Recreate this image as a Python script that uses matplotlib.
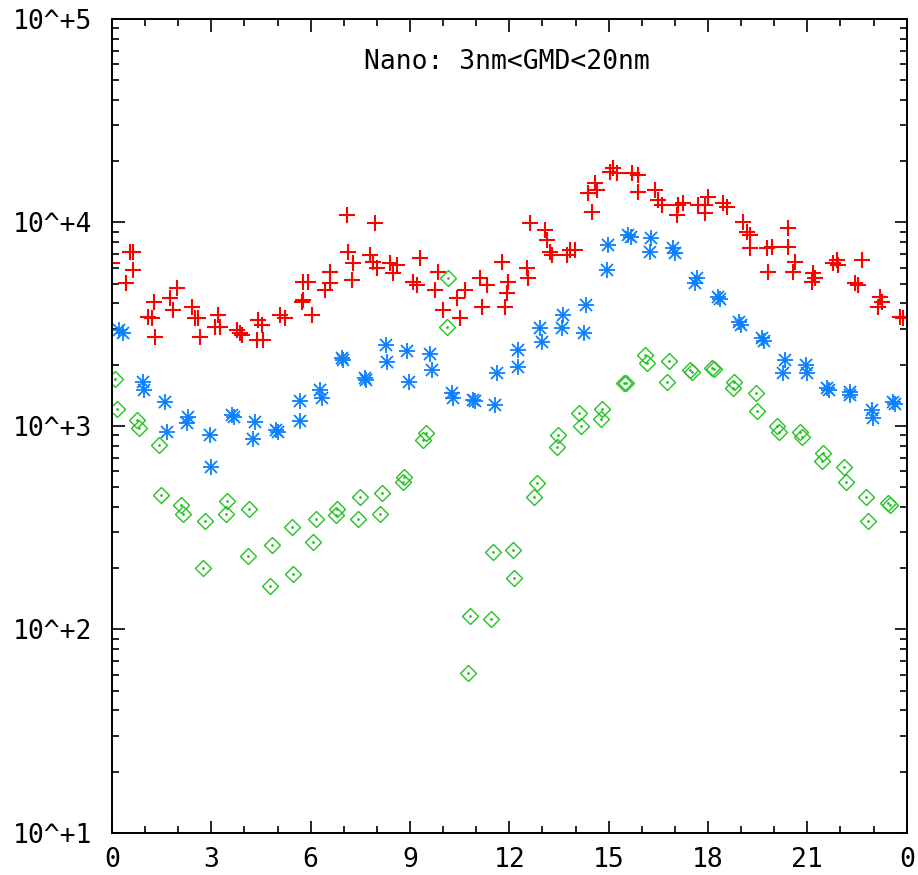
import numpy as np
import matplotlib
matplotlib.use('Agg')
import matplotlib.pyplot as plt
from matplotlib.ticker import FixedLocator, NullFormatter

# hour of day and number concentration
red_hours = [0.00, 0.54, 0.63, 0.63, 0.42, 1.27, 1.09, 1.21, 1.30, 1.75, 1.84, 1.96,
             2.42, 2.51, 2.60, 2.66, 3.20, 3.26, 3.11, 3.78, 3.87, 3.93, 4.41, 4.53,
             4.56, 4.38, 5.08, 5.23, 5.74, 5.77, 6.04, 5.92, 5.77, 6.44, 6.59, 6.59,
             7.10, 7.25, 7.28, 7.13, 7.95, 7.79, 7.89, 8.01, 8.40, 8.61, 8.49, 9.09,
             9.21, 9.31, 9.76, 9.85, 10.00, 10.42, 10.51, 10.66, 11.12, 11.18, 11.33,
             11.78, 11.96, 11.93, 11.87, 12.54, 12.57, 12.63, 13.08, 13.14, 13.23,
             13.29, 13.75, 13.84, 13.99, 14.50, 14.38, 14.59, 14.65, 15.05, 15.14,
             15.26, 15.71, 15.89, 15.89, 16.40, 16.50, 16.62, 17.10, 17.07, 17.25,
             17.70, 17.92, 17.92, 18.01, 18.46, 18.58, 19.06, 19.18, 19.27, 19.27,
             19.79, 19.94, 19.82, 20.42, 20.42, 20.63, 20.57, 21.18, 21.24, 21.15,
             21.78, 21.90, 21.93, 22.66, 22.45, 22.54, 23.20, 23.26, 23.14, 23.81, 23.90]
red_vals = [6320, 7160, 7160, 5840, 5040, 4070, 3430, 3390, 2740, 4260, 3720, 4770,
            3840, 3390, 3390, 2740, 3510, 3070, 3070, 2960, 2860, 2800, 3320, 3140,
            2650, 2650, 3510, 3390, 4070, 5100, 3510, 5100, 4160, 4660, 5040, 5710,
            10880, 5220, 6320, 7160, 9940, 6930, 6400, 5980, 6320, 6180, 5650, 5100,
            4930, 6690, 4660, 5710, 3720, 4260, 3390, 4660, 5340, 3840, 4930,
            6400, 5100, 4500, 3840, 5980, 5340, 9940, 9190, 8200, 7160,
            6930, 6930, 7330, 7330, 11260, 13960, 15630, 14440, 17710, 18530,
            17510, 17510, 17120, 14120, 14440, 12900, 12190, 12190, 10880, 12470,
            12190, 12190, 11130, 13350, 12470, 11920, 10060, 8980, 8680, 7490,
            7490, 7580, 5710, 9400, 7580, 6400, 5710, 5650, 5340, 5100,
            6320, 6540, 6180, 6540, 5040, 4930, 4300, 4070, 3840, 3430, 3390]

blue_hours = [0.21, 0.33, 0.94, 0.97, 1.60, 1.66, 2.30, 2.27, 2.96, 2.99, 3.63, 3.69,
              4.32, 4.26, 4.95, 5.02, 5.68, 5.68, 6.28, 6.34, 6.95, 6.98, 7.64, 7.67,
              8.28, 8.31, 8.91, 8.97, 9.61, 9.67, 10.27, 10.30, 10.91, 10.97, 11.57,
              11.63, 12.27, 12.27, 12.93, 12.99, 13.63, 13.60, 14.32, 14.26, 14.98,
              14.95, 15.59, 15.68, 16.28, 16.25, 16.95, 17.01, 17.67, 17.61, 18.31,
              18.37, 18.94, 19.00, 19.64, 19.70, 20.33, 20.27, 20.97, 21.00, 21.60,
              21.66, 22.30, 22.30, 22.96, 22.99, 23.60, 23.66]
blue_vals = [2970, 2860, 1650, 1500, 1310, 930, 1110, 1030, 900, 630, 1130, 1110,
             1050, 860, 960, 930, 1330, 1060, 1500, 1370, 2160, 2110, 1720, 1680,
             2500, 2060, 2340, 1650, 2260, 1890, 1450, 1370, 1340, 1330, 1270,
             1820, 2360, 1950, 3030, 2590, 3510, 3030, 3930, 2860, 7750,
             5840, 8680, 8500, 8390, 7160, 7490, 7080, 5340, 5040, 4300,
             4200, 3240, 3130, 2710, 2630, 2110, 1820, 2000, 1820, 1540,
             1500, 1470, 1420, 1200, 1090, 1310, 1280]

green_hours = [0.09, 0.15, 0.76, 0.82, 1.42, 1.48, 2.08, 2.14, 2.81, 2.75, 3.47, 3.44,
               4.14, 4.11, 4.83, 4.77, 5.44, 5.47, 6.16, 6.07, 6.80, 6.77, 7.49, 7.43,
               8.16, 8.10, 8.82, 8.79, 9.49, 9.40, 10.15, 10.12, 10.82, 10.76, 11.45,
               11.51, 12.11, 12.14, 12.84, 12.75, 13.47, 13.44, 14.11, 14.17, 14.80,
               14.77, 15.47, 15.53, 16.10, 16.16, 16.83, 16.77, 17.46, 17.52, 18.13,
               18.19, 18.79, 18.76, 19.46, 19.49, 20.09, 20.15, 20.79, 20.85, 21.48,
               21.45, 22.11, 22.18, 22.78, 22.84, 23.44, 23.50]
green_vals = [1700, 1210, 1070, 980, 810, 460, 410, 370, 340, 200, 430, 370,
              390, 230, 260, 164, 320, 187, 350, 270, 390, 365, 450, 350,
              470, 370, 560, 530, 920, 850, 5340, 3070, 116, 61, 113,
              240, 246, 179, 525, 450, 900, 790, 1160, 1000, 1210,
              1080, 1630, 1630, 2230, 2040, 2080, 1650, 1890, 1850, 1930,
              1900, 1650, 1540, 1450, 1190, 1000, 930, 930, 880, 740,
              670, 630, 530, 450, 340, 420, 410]

x_ticks = [0, 3, 6, 9, 12, 15, 18, 21, 24]
x_labels = ['0', '3', '6', '9', '12', '15', '18', '21', '0']
y_ticks = [1e1, 1e2, 1e3, 1e4, 1e5]
y_labels = ['10^+1', '10^+2', '10^+3', '10^+4', '10^+5']
title = 'Nano: 3nm<GMD<20nm'

RED = '#ff0000'
BLUE = '#0a80ff'
GREEN = '#22c422'
FONT = 'DejaVu Sans Mono'

fig = plt.figure(figsize=(9.18, 8.75), dpi=100)
ax = fig.add_axes([0.122, 0.048, 0.8657, 0.9303])

ax.plot(red_hours, red_vals, linestyle='none', marker='+', color=RED,
        markersize=12, markeredgewidth=1.5)
# gnuplot style asterisk = plus + cross
ax.plot(blue_hours, blue_vals, linestyle='none', marker='+', color=BLUE,
        markersize=12, markeredgewidth=1.3)
ax.plot(blue_hours, blue_vals, linestyle='none', marker='x', color=BLUE,
        markersize=8.5, markeredgewidth=1.3)
ax.plot(green_hours, green_vals, linestyle='none', marker='D', color=GREEN,
        markersize=8.3, markeredgewidth=1.0, fillstyle='none')
ax.plot(green_hours, green_vals, linestyle='none', marker='.', color=GREEN,
        markersize=2)

ax.set_yscale('log')
ax.set_xlim(0, 24)
ax.set_ylim(1e1, 1e5)

ax.xaxis.set_major_locator(FixedLocator(x_ticks))
ax.xaxis.set_minor_locator(FixedLocator(range(25)))
ax.set_xticklabels(x_labels)
ax.set_yticks(y_ticks)
ax.set_yticklabels(y_labels)
ax.yaxis.set_minor_formatter(NullFormatter())

ax.tick_params(which='both', direction='in', top=True, right=True, width=1.2,
               labelsize=19, colors='black')
ax.tick_params(which='major', length=9)
ax.tick_params(which='minor', length=5)
ax.tick_params(axis='y', pad=14)
ax.tick_params(axis='x', pad=10)
for lab in ax.get_xticklabels() + ax.get_yticklabels():
    lab.set_family(FONT)

for sp in ax.spines.values():
    sp.set_linewidth(1.4)

ax.text(0.497, 0.947, title, transform=ax.transAxes, ha='center', va='center',
        family=FONT, fontsize=19)

fig.savefig('out.png', dpi=100)
